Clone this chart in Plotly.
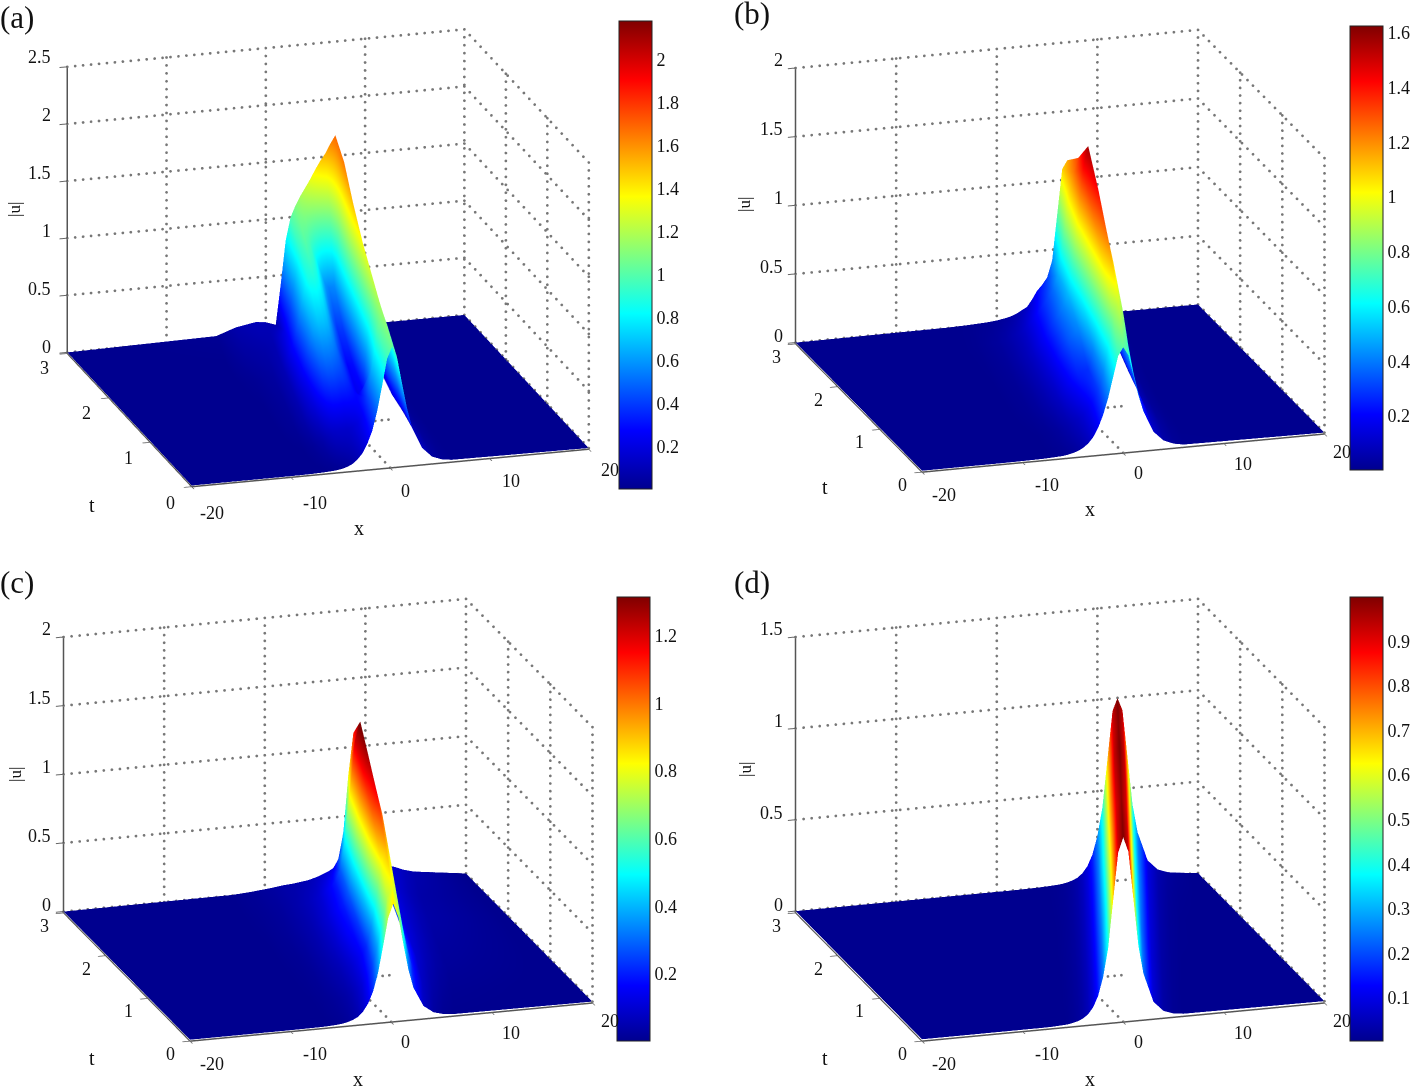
import plotly.graph_objects as go

W, H = 1411, 1089
FONT = "Liberation Serif"

rel_x = [-12,-10,-8,-7,-6,-5.5,-5,-4.5,-4,-3.5,-3,-2.5,-2,-1.5,-1,-.5,0,.5,1,1.5,2,3,4,5,6]
t_vals = [0,.5,1,1.5,2,2.5,3]
x_ticks = [-20,-10,0,10,20]
t_ticks = [0,1,2,3]
x_label_dx = [22,24,15,19,18]
x_label_dy = [23,22,20,20,18]
floor_gap_x = [0,4]
floor_gap_t = [0,1]

ridge_a = [.2,1.3,2.4,3.5,4.6,5.8,7]
ridge_b = [0,1.6,2.7,3.8,4.9,6,7]
ridge_c = [.2,2.2,3.7,4.9,6.1,7.4,8.8]
ridge_d = [0,2,4,6,8,10,12]

z_a = [
 [0,0,.002,.005,.01,.015,.022,.035,.055,.09,.14,.22,.33,.5,.72,.95,1.05,.95,.72,.5,.33,.14,.055,.022,.01],
 [0,.002,.01,.03,.07,.11,.14,.15,.15,.15,.17,.2,.26,.42,.7,1.0,1.15,1.03,.75,.5,.3,.11,.04,.015,.005],
 [0,.005,.03,.08,.2,.3,.4,.45,.45,.42,.4,.36,.3,.24,.28,.8,1.25,1.05,.68,.38,.2,.06,.02,.006,.002],
 [.003,.01,.04,.1,.28,.45,.62,.7,.7,.66,.56,.45,.36,.28,.3,.85,1.35,1.1,.66,.34,.17,.04,.01,.003,.001],
 [.005,.02,.05,.1,.3,.5,.72,.88,.9,.85,.74,.6,.48,.38,.4,.95,1.5,1.2,.7,.35,.16,.03,.008,.002,.001],
 [.01,.05,.07,.09,.22,.4,.65,.92,1.02,.98,.88,.75,.62,.55,.58,1.1,1.65,1.3,.75,.36,.16,.03,.008,.002,.001],
 [.02,.08,.11,.1,.07,.42,.8,1.0,1.1,1.18,1.25,1.32,1.4,1.47,1.53,1.61,1.68,1.3,.8,.4,.17,.03,.008,.002,.001],
]
z_b = [
 [0,.001,.003,.006,.01,.016,.024,.036,.054,.082,.124,.19,.28,.40,.55,.70,.76,.70,.55,.40,.28,.124,.054,.024,.01],
 [0,.002,.007,.015,.03,.045,.06,.08,.1,.13,.17,.23,.3,.42,.62,.84,.95,.84,.6,.4,.25,.09,.035,.012,.004],
 [.001,.004,.015,.03,.06,.08,.1,.14,.18,.22,.26,.27,.28,.42,.72,1.05,1.22,1.05,.75,.45,.25,.08,.025,.008,.003],
 [.002,.006,.02,.04,.075,.1,.13,.17,.22,.28,.34,.38,.42,.58,.88,1.24,1.42,1.2,.82,.48,.26,.07,.02,.006,.002],
 [.003,.008,.025,.05,.085,.11,.15,.19,.24,.3,.36,.42,.5,.72,1.05,1.4,1.57,1.3,.88,.5,.26,.07,.02,.006,.002],
 [.004,.01,.03,.05,.08,.1,.13,.17,.22,.27,.32,.38,.48,.72,1.0,1.22,1.32,1.1,.72,.4,.2,.05,.015,.005,.002],
 [.004,.008,.015,.022,.035,.045,.06,.08,.1,.15,.21,.25,.3,.42,.75,1.08,1.14,1.0,.62,.33,.16,.04,.012,.004,.001],
]
z_c = [
 [0,0,.001,.002,.005,.008,.012,.02,.032,.05,.085,.14,.225,.36,.55,.75,.85,.75,.55,.36,.225,.085,.032,.012,.005],
 [0,.001,.004,.008,.016,.022,.03,.04,.055,.08,.11,.17,.25,.38,.56,.74,.8,.72,.52,.33,.2,.08,.04,.02,.01],
 [.001,.002,.008,.015,.03,.04,.05,.06,.08,.1,.13,.16,.22,.36,.58,.82,.91,.8,.56,.36,.22,.1,.06,.035,.02],
 [.001,.004,.012,.022,.04,.05,.065,.08,.1,.13,.16,.18,.24,.42,.72,1.02,1.15,1.0,.68,.4,.24,.12,.08,.05,.03],
 [.002,.006,.018,.03,.045,.055,.07,.09,.11,.14,.17,.2,.28,.48,.8,1.14,1.27,1.1,.72,.42,.25,.13,.09,.06,.04],
 [.003,.01,.022,.035,.05,.06,.07,.085,.1,.13,.16,.2,.28,.5,.86,1.22,1.35,1.15,.72,.42,.24,.13,.09,.06,.04],
 [.005,.015,.03,.04,.045,.05,.055,.06,.07,.08,.095,.11,.13,.19,.38,.8,1.1,.98,.62,.35,.2,.12,.1,.07,.05],
]
z_d = [
 [0,0,0,.001,.004,.006,.011,.018,.03,.05,.085,.145,.245,.4,.66,.92,1.0,.92,.66,.4,.245,.085,.03,.011,.004],
 [0,0,.001,.002,.005,.007,.012,.019,.03,.05,.086,.146,.245,.4,.66,.92,.99,.92,.66,.4,.245,.086,.03,.011,.004],
 [0,0,.001,.002,.005,.008,.013,.02,.032,.052,.088,.148,.245,.39,.65,.91,.98,.91,.65,.39,.24,.085,.031,.012,.005],
 [0,.001,.002,.003,.006,.009,.014,.021,.033,.054,.09,.15,.25,.4,.66,.92,.99,.92,.66,.4,.245,.088,.032,.013,.006],
 [0,.001,.002,.003,.006,.009,.014,.022,.034,.055,.09,.15,.25,.41,.67,.93,1.0,.93,.66,.4,.25,.09,.034,.014,.006],
 [0,.001,.002,.004,.007,.01,.015,.023,.035,.056,.092,.152,.25,.4,.66,.92,.99,.92,.66,.4,.25,.092,.036,.016,.008],
 [.001,.001,.003,.005,.008,.011,.016,.024,.036,.058,.094,.155,.255,.41,.67,.93,1.0,.93,.67,.41,.255,.095,.04,.02,.012],
]

jet = [[0,"#00008f"],[.125,"#0000ff"],[.375,"#00ffff"],[.625,"#ffff00"],[.875,"#ff0000"],[1,"#800000"]]

panels = [
 dict(name="a", ridge=ridge_a, z=z_a, ztop=2.5, zt=[0,.5,1,1.5,2,2.5], ztx=["0","0.5","1","1.5","2","2.5"],
      cmin=.005, cmax=2.18, cb=[.2,.4,.6,.8,1,1.2,1.4,1.6,1.8,2], cbt=["0.2","0.4","0.6","0.8","1","1.2","1.4","1.6","1.8","2"],
      bar=(619,21,489), center=(328,258), eye=(-.270,-.909,.318), zoom=1.748, asp=(.948,1,.692),
      front=(190,490), xv=(402,-38), tv=(-126,-135), zh=290,
      lab=(17,17), xl=(359,528), tl=(92,505), ul=(15,210)),
 dict(name="b", ridge=ridge_b, z=z_b, ztop=2, zt=[0,.5,1,1.5,2], ztx=["0","0.5","1","1.5","2"],
      cmin=.003, cmax=1.625, cb=[.2,.4,.6,.8,1,1.2,1.4,1.6], cbt=["0.2","0.4","0.6","0.8","1","1.2","1.4","1.6"],
      bar=(1350,26,470), center=(1060,251), eye=(-.278,-.909,.31), zoom=1.73, asp=(.973,1,.671),
      front=(922,472), xv=(402,-38), tv=(-126,-128), zh=276,
      lab=(752,14), xl=(1090,509), tl=(825,487), ul=(745,205)),
 dict(name="c", ridge=ridge_c, z=z_c, ztop=2, zt=[0,.5,1,1.5,2], ztx=["0","0.5","1","1.5","2"],
      cmin=.002, cmax=1.315, cb=[.2,.4,.6,.8,1,1.2], cbt=["0.2","0.4","0.6","0.8","1","1.2"],
      bar=(617,597,1041), center=(328,820), eye=(-.278,-.909,.31), zoom=1.73, asp=(.973,1,.671),
      front=(190,1041), xv=(402,-38), tv=(-126,-128), zh=276,
      lab=(17,582), xl=(358,1079), tl=(92,1058), ul=(15,775)),
 dict(name="d", ridge=ridge_d, z=z_d, ztop=1.5, zt=[0,.5,1,1.5], ztx=["0","0.5","1","1.5"],
      cmin=.003, cmax=1.0, cb=[.1,.2,.3,.4,.5,.6,.7,.8,.9], cbt=["0.1","0.2","0.3","0.4","0.5","0.6","0.7","0.8","0.9"],
      bar=(1350,597,1041), center=(1060,820), eye=(-.278,-.909,.31), zoom=1.73, asp=(.973,1,.671),
      front=(922,1041), xv=(402,-38), tv=(-126,-128), zh=276,
      lab=(752,582), xl=(1090,1079), tl=(825,1058), ul=(745,770)),
]

DOM_W, DOM_H = 600, 500
DOTS_X, DOTS_T, DOTS_Z = 50, 23, 36

def grid_trace(p, scene):
    xs, ys, zs = [], [], []
    def seg(a, b, n):
        for k in range(n + 1):
            f = k / n
            xs.append(a[0] + (b[0]-a[0])*f); ys.append(a[1] + (b[1]-a[1])*f); zs.append(a[2] + (b[2]-a[2])*f)
    top, low = p["ztop"], -0.008
    for z in p["zt"]:
        seg((x_ticks[0], t_ticks[-1], z), (x_ticks[-1], t_ticks[-1], z), DOTS_X)
        seg((x_ticks[-1], t_ticks[0], z), (x_ticks[-1], t_ticks[-1], z), DOTS_T)
    for x in x_ticks[1:]:
        seg((x, t_ticks[-1], 0), (x, t_ticks[-1], top), DOTS_Z)
    for t in t_ticks[:-1]:
        seg((x_ticks[-1], t, 0), (x_ticks[-1], t, top), DOTS_Z)
    seg((floor_gap_x[0], floor_gap_t[0], low), (floor_gap_x[0], floor_gap_t[1], low), 8)
    seg((floor_gap_x[0], floor_gap_t[1], low), (floor_gap_x[1], floor_gap_t[1], low), 6)
    return go.Scatter3d(x=xs, y=ys, z=zs, mode="markers", scene=scene, showlegend=False, hoverinfo="skip",
                        marker=dict(color="#777777", size=1.6, line=dict(width=0)))

fig = go.Figure()
layout = dict(width=W, height=H, autosize=False, paper_bgcolor="white", margin=dict(l=0,r=0,t=0,b=0), annotations=[])

def txt(s, pos, size, angle=0, anchor="center"):
    return dict(text=s, x=pos[0]/W, y=1-pos[1]/H, xref="paper", yref="paper", showarrow=False,
                xanchor=anchor, yanchor="middle", textangle=angle, font=dict(family=FONT, size=size, color="#111"))

for i, p in enumerate(panels):
    scene = "scene" if i == 0 else f"scene{i+1}"
    xs2d, zs2d = [], []
    for s, row in zip(p["ridge"], p["z"]):
        xs2d.append([-20] + [s + u for u in rel_x] + [20])
        zs2d.append([0] + row + [0])
    bx, by0, by1 = p["bar"]
    fig.add_trace(go.Surface(
        x=xs2d, y=t_vals, z=zs2d, scene=scene, colorscale=jet, cmin=p["cmin"], cmax=p["cmax"], hoverinfo="skip",
        lighting=dict(ambient=1, diffuse=0, specular=0, fresnel=0, roughness=1),
        colorbar=dict(x=bx/W, xanchor="left", xpad=0, y=1-by0/H, yanchor="top", ypad=0,
                      lenmode="pixels", len=by1-by0, thicknessmode="pixels", thickness=33,
                      tickvals=p["cb"], ticktext=p["cbt"], ticks="", outlinecolor="#222", outlinewidth=1,
                      tickfont=dict(family=FONT, size=18, color="#111"))))
    fig.add_trace(grid_trace(p, scene))
    cx, cy = p["center"]
    ax = dict(showgrid=False, zeroline=False, showbackground=False, showline=True, linecolor="#555", linewidth=3,
              ticks="outside", ticklen=8, tickcolor="#666", tickwidth=2, showspikes=False, title=dict(text=""),
              showticklabels=False)
    ex, ey, ez = p["eye"]
    a, zm = p["asp"], p["zoom"]
    layout[scene] = dict(
        domain=dict(x=[(cx-DOM_W/2)/W, (cx+DOM_W/2)/W], y=[1-(cy+DOM_H/2)/H, 1-(cy-DOM_H/2)/H]),
        camera=dict(eye=dict(x=ex*2, y=ey*2, z=ez*2), up=dict(x=0,y=0,z=1), projection=dict(type="orthographic")),
        aspectmode="manual", aspectratio=dict(x=a[0]*zm, y=a[1]*zm, z=a[2]*zm),
        xaxis=dict(ax, range=[-20,20], tickvals=x_ticks),
        yaxis=dict(ax, range=[0,3], tickvals=t_ticks),
        zaxis=dict(ax, range=[-.01,p["ztop"]], tickvals=p["zt"]),
    )
    ann = [txt(f"({p['name']})", p["lab"], 31), txt("x", p["xl"], 20), txt("t", p["tl"], 20), txt("|u|", p["ul"], 17, -90)]
    fx, fy = p["front"]
    for v, dx, dy in zip(x_ticks, x_label_dx, x_label_dy):
        k = (v + 20) / 40
        ann.append(txt(str(v), (fx + k*p["xv"][0] + dx, fy + k*p["xv"][1] + dy), 18))
    for v in t_ticks:
        k = v / 3
        ann.append(txt(str(v), (fx + k*p["tv"][0] - 20, fy + k*p["tv"][1] + 13), 18))
    lx, ly = fx + p["tv"][0], fy + p["tv"][1]
    for v, s in zip(p["zt"], p["ztx"]):
        ann.append(txt(s, (lx - 11, ly - v/p["ztop"]*p["zh"] - 8), 18, anchor="right"))
    layout["annotations"] += ann

fig.update_layout(**layout)
fig.write_html("out.html", post_script="document.body.style.margin='0';", config={"displayModeBar": False})
